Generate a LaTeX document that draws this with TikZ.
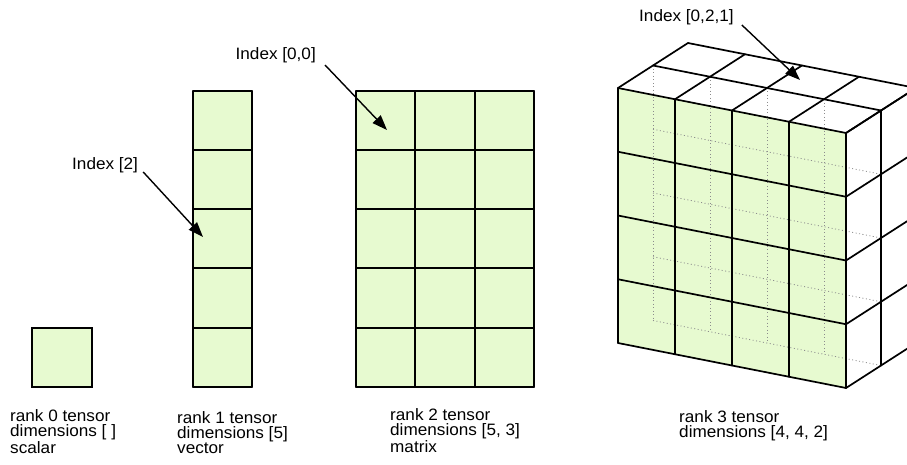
\documentclass[tikz,border=0pt]{standalone}
\usepackage{fontspec}
\setmainfont{Liberation Sans}[FakeStretch=1.04]
\usetikzlibrary{arrows.meta}
\definecolor{cellgreen}{RGB}{231,250,208}
\begin{document}
\begin{tikzpicture}[x=1pt,y=-1pt,
  gridline/.style={line width=1.7pt,line cap=round},
  lbl/.style={inner sep=0pt,font=\fontsize{16.5}{14.8}\selectfont,align=left},
  ptr/.style={line width=1.4pt,-{Triangle[length=15pt,width=11pt]}},
  hidden/.style={draw=black!45,line width=0.8pt,dash pattern=on 1pt off 2.5pt}]
\useasboundingbox (0,0) rectangle (907,465);
\clip (0,0) rectangle (907,465);
% rank 0
\fill[cellgreen] (32,328) rectangle (92,387);
\draw[gridline] (32,328) rectangle (92,387);
% rank 1
\fill[cellgreen] (193,91) rectangle (252,387);
\foreach \y in {91,150,209,268,328,387} \draw[gridline] (193,\y) -- (252,\y);
\foreach \x in {193,252} \draw[gridline] (\x,91) -- (\x,387);
% rank 2
\fill[cellgreen] (356,91) rectangle (534,387);
\foreach \y in {91,150,209,268,328,387} \draw[gridline] (356,\y) -- (534,\y);
\foreach \x in {356,415,475,534} \draw[gridline] (\x,91) -- (\x,387);
% rank 3
\foreach \i in {0,...,4}
  \foreach \r in {0,...,4}
    \foreach \d in {0,1,2}
      \coordinate (p\i\r\d) at ({618+57*\i+35*\d},{88+11.25*\i+63.75*\r-22.5*\d});
\fill[cellgreen] (p000) -- (p400) -- (p440) -- (p040) -- cycle;
\foreach \i in {0,...,3} \draw[hidden] (p\i01) -- (p\i41);
\foreach \r in {1,...,4} \draw[hidden] (p0\r1) -- (p4\r1);
\foreach \i in {0,...,4} \draw[gridline] (p\i00) -- (p\i40);
\foreach \r in {0,...,4} \draw[gridline] (p0\r0) -- (p4\r0);
\foreach \d in {1,2} \draw[gridline] (p00\d) -- (p40\d);
\foreach \i in {0,...,4} \draw[gridline] (p\i00) -- (p\i02);
\foreach \d in {1,2} \draw[gridline] (p40\d) -- (p44\d);
\foreach \r in {0,...,4} \draw[gridline] (p4\r0) -- (p4\r2);
% labels (base anchor = baseline of last line)
\node[lbl,anchor=base west] (l0) at (10,453) {rank 0 tensor\\dimensions [ ]\\scalar};
\node[lbl,anchor=base west] (l1) at (177,453) {rank 1 tensor\\dimensions [5]\\vector};
\node[lbl,anchor=base west] (l2) at (390,452) {rank 2 tensor\\dimensions [5, 3]\\matrix};
\node[lbl,anchor=base west] (l3) at (679,437) {rank 3 tensor\\dimensions [4, 4, 2]};
% index labels and pointers
\node[lbl,anchor=base west] (i2) at (72,170) {Index [2]};
\node[lbl,anchor=base east] (i00) at (316,60) {Index [0,0]};
\node[lbl,anchor=base west] (i021) at (639,22) {Index [0,2,1]};
\coordinate (t2) at (203,237);
\coordinate (t00) at (387,130);
\coordinate (t021) at (800,80);
\draw[ptr] ([shift={(5,2)}]i2.base east) -- (t2);
\draw[ptr] ([shift={(9,5)}]i00.base east) -- (t00);
\draw[ptr] ([shift={(8,3)}]i021.base east) -- (t021);
\end{tikzpicture}
\end{document}
